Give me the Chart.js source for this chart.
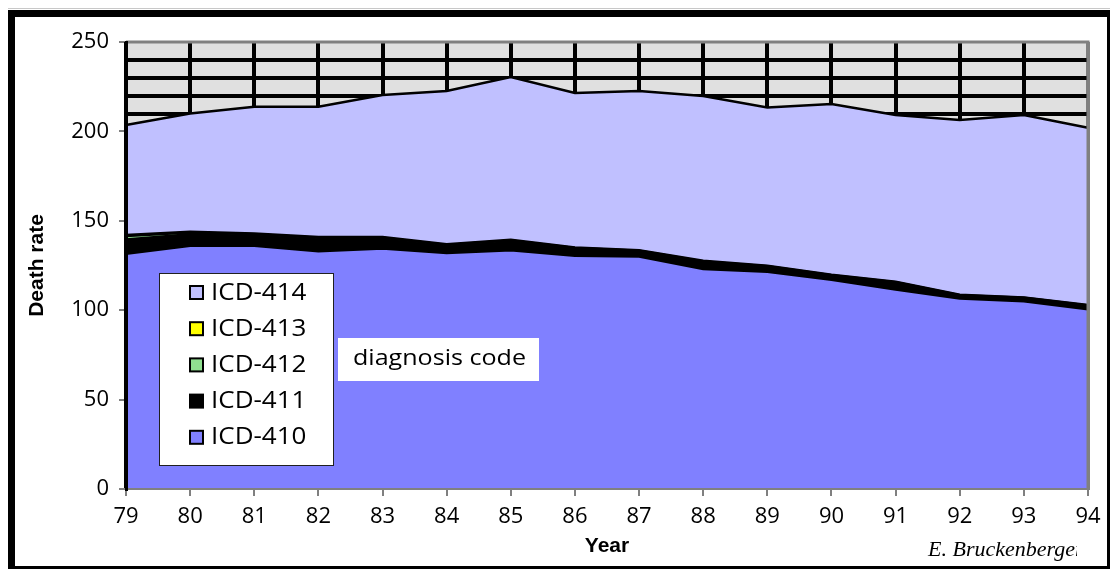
<!DOCTYPE html>
<html>
<head>
<meta charset="utf-8">
<script src="https://cdn.jsdelivr.net/npm/chart.js@4/dist/chart.umd.min.js"></script>
<style>
  html, body { margin: 0; padding: 0; background: #fff; }
  #wrap { width: 1111px; height: 569px; }
</style>
</head>
<body>
<div id="wrap"><canvas id="myChart" width="1111" height="569"></canvas></div>
<script>
var years = ["79", "80", "81", "82", "83", "84", "85", "86", "87", "88", "89", "90", "91", "92", "93", "94"];

// death rate per diagnosis code, stacked from the bottom up
var icd410 = [131.5, 136, 136, 133, 134.5, 132, 133.5, 130.5, 130, 123, 121.5, 117, 111.5, 106.5, 105, 100.5];
var icd411 = [8, 6.5, 5.5, 6.5, 5, 3.5, 4.5, 3.5, 2.5, 3.5, 2.5, 2, 3.5, 1.5, 1.5, 1.8];
var icd412 = [2, 1, 1, 1, 1, 1, 1, 0.8, 0.8, 0.8, 0.6, 0.6, 0.6, 0.4, 0.4, 0.4];
var icd413 = [0.5, 0.4, 0.4, 0.4, 0.4, 0.4, 0.4, 0.3, 0.3, 0.3, 0.3, 0.3, 0.3, 0.2, 0.2, 0.2];
var icd414 = [61.6, 66.1, 70.9, 72.9, 79.5, 85.7, 91, 86.4, 89, 92.2, 88.5, 95.4, 93.3, 97.8, 102.1, 99.1];

var seriesNames = ["ICD-410", "ICD-411", "ICD-412", "ICD-413", "ICD-414"];
var seriesColors = ["#8080ff", "#000000", "#90e090", "#ffff00", "#c0c0ff"];
var seriesData = [icd410, icd411, icd412, icd413, icd414];

var yTickLabels = [0, 50, 100, 150, 200, 250];
var gridRows = [210, 220, 230, 240];

var datasets = [];
for (var i = 0; i < seriesNames.length; i++) {
  datasets.push({
    label: seriesNames[i],
    data: seriesData[i],
    backgroundColor: seriesColors[i],
    borderColor: "#000",
    borderWidth: 2.5,
    pointRadius: 0,
    tension: 0,
    fill: i == 0 ? "origin" : "-1",
  });
}

// text in the original is a bit wider than Open Sans, so stretch it a little
function wideText(ctx, text, x, y, stretch) {
  ctx.save();
  ctx.translate(x, y);
  ctx.scale(stretch, 1);
  ctx.fillText(text, 0, 0);
  ctx.restore();
}

var framePlugin = {
  id: "frame",
  beforeDraw(chart) {
    var ctx = chart.ctx;
    var a = chart.chartArea;
    ctx.save();
    // outer border of the sheet
    ctx.fillStyle = "#c8c8c8";
    ctx.fillRect(8, 8, 1102, 1);
    ctx.fillStyle = "#000";
    ctx.fillRect(8, 10, 1102, 559);
    ctx.fillStyle = "#fff";
    ctx.fillRect(15, 17, 1092, 549);
    // plot area background
    ctx.fillStyle = "#e0e0e0";
    ctx.fillRect(a.left, a.top, a.right - a.left, a.bottom - a.top);
    ctx.restore();
  },
  afterDatasetsDraw(chart) {
    var ctx = chart.ctx;
    var a = chart.chartArea;
    ctx.save();
    ctx.strokeStyle = "#808080";
    ctx.lineWidth = 3;
    ctx.beginPath();
    ctx.moveTo(a.left, a.top);
    ctx.lineTo(a.right, a.top);
    ctx.lineTo(a.right, a.bottom);
    ctx.stroke();
    ctx.restore();
  },
  afterDraw(chart) {
    var ctx = chart.ctx;
    ctx.save();

    // legend box
    ctx.fillStyle = "#fff";
    ctx.fillRect(159, 273, 174, 192);
    ctx.strokeStyle = "#202020";
    ctx.lineWidth = 1;
    ctx.strokeRect(159.5, 273.5, 174, 192);

    var ds = chart.data.datasets;
    ctx.font = "23px 'Open Sans'";
    ctx.textBaseline = "middle";
    ctx.textAlign = "left";
    for (var r = 0; r < ds.length; r++) {
      var d = ds[ds.length - 1 - r];
      var cy = 292 + r * 36.2;
      ctx.fillStyle = "#000";
      ctx.fillRect(189, cy - 7, 15, 15);
      ctx.fillStyle = d.backgroundColor;
      ctx.fillRect(191, cy - 5, 11, 11);
      ctx.fillStyle = "#000";
      wideText(ctx, d.label, 211, cy + 1, 1.13);
    }

    // note
    ctx.fillStyle = "#fff";
    ctx.fillRect(338, 338, 201, 43);
    ctx.fillStyle = "#000";
    ctx.font = "22px 'Open Sans'";
    wideText(ctx, "diagnosis code", 353, 359, 1.14);

    // credit, cut off at the right like the original
    ctx.beginPath();
    ctx.rect(900, 525, 177, 40);
    ctx.clip();
    ctx.font = "italic 22px 'Liberation Serif'";
    ctx.textBaseline = "alphabetic";
    ctx.fillText("E. Bruckenberger", 928, 556);
    ctx.restore();
  },
};

var ctx = document.getElementById("myChart").getContext("2d");
var myChart = new Chart(ctx, {
  type: "line",
  data: {
    labels: years,
    datasets: datasets,
  },
  options: {
    responsive: false,
    animation: false,
    layout: { padding: { left: 0, top: 42, right: 23, bottom: 0 } },
    plugins: {
      legend: { display: false },
      tooltip: { enabled: false },
    },
    scales: {
      x: {
        type: "category",
        offset: false,
        afterFit(scale) {
          scale.height = 80;
        },
        grid: {
          color: function (c) {
            return c.index == years.length - 1 ? "#808080" : "#000";
          },
          lineWidth: 4,
          tickColor: "#000",
          tickWidth: 1,
          tickLength: 7,
        },
        border: { color: "#808080", width: 2, z: 1 },
        ticks: {
          color: "#000",
          font: { family: "'Open Sans'", size: 22 },
          padding: 8,
          maxRotation: 0,
          autoSkip: false,
        },
        title: {
          display: true,
          text: "Year",
          color: "#000",
          font: { family: "'Liberation Sans'", size: 21, weight: "bold" },
          padding: { top: 0, bottom: 10 },
        },
      },
      y: {
        stacked: true,
        min: 0,
        max: 250,
        afterFit(scale) {
          scale.width = 126;
        },
        grid: {
          color: function (c) {
            return c.tick && gridRows.indexOf(c.tick.value) >= 0 ? "#000" : "rgba(0,0,0,0)";
          },
          lineWidth: 4,
          tickColor: function (c) {
            return c.tick && yTickLabels.indexOf(c.tick.value) >= 0 ? "#000" : "rgba(0,0,0,0)";
          },
          tickWidth: 1,
          tickLength: 7,
        },
        border: { color: "#000", width: 3, z: 1 },
        ticks: {
          stepSize: 10,
          autoSkip: false,
          color: "#000",
          font: { family: "'Open Sans'", size: 22 },
          padding: 10,
          callback: function (v) {
            return yTickLabels.indexOf(v) >= 0 ? v : "";
          },
        },
        title: {
          display: true,
          text: "Death rate",
          color: "#000",
          font: { family: "'Liberation Sans'", size: 21, weight: "bold" },
          padding: { top: 25, bottom: 0 },
        },
      },
    },
  },
  plugins: [framePlugin],
});
</script>
</body>
</html>
